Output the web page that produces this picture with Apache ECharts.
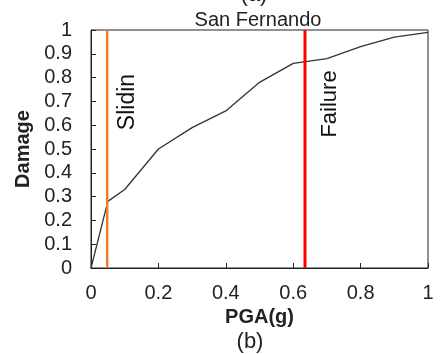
<!DOCTYPE html>
<html>
<head>
<meta charset="utf-8">
<script src="https://cdn.jsdelivr.net/npm/echarts@6/dist/echarts.min.js"></script>
<style>html,body{margin:0;padding:0;background:#fff}#c{width:441px;height:354px}</style>
</head>
<body>
<div id="c"></div>
<script>
var pga = [0, 0.05, 0.1, 0.2, 0.3, 0.4, 0.5, 0.6, 0.7, 0.8, 0.9, 1.0];
var damage = [0, 0.28, 0.33, 0.50, 0.59, 0.66, 0.78, 0.86, 0.88, 0.93, 0.97, 0.99];
var slidingPGA = 0.048;
var failurePGA = 0.635;
var yTicks = [0, 0.1, 0.2, 0.3, 0.4, 0.5, 0.6, 0.7, 0.8, 0.9, 1];
var xTicks = [0, 0.2, 0.4, 0.6, 0.8, 1];

var chart = echarts.init(document.getElementById('c'), null, {renderer: 'canvas'});
var font = 'Liberation Sans, Arial, sans-serif';
var lineData = pga.map(function (x, i) { return [x, damage[i]]; });

chart.setOption({
  animation: false,
  backgroundColor: '#fff',
  textStyle: {fontFamily: font},
  grid: {left: 91, right: 13, top: 30, bottom: 86, show: true, borderColor: '#222', borderWidth: 1, backgroundColor: 'transparent'},
  xAxis: {
    type: 'value', min: 0, max: 1, interval: 0.2,
    name: 'PGA(g)', nameLocation: 'middle', nameGap: 32,
    nameTextStyle: {fontSize: 20, fontWeight: 'bold', color: '#222', fontFamily: font},
    axisLine: {show: true, lineStyle: {color: '#222', width: 1}},
    axisTick: {show: true, inside: true, length: 5, lineStyle: {color: '#222'}},
    axisLabel: {fontSize: 20, color: '#222', margin: 15, fontFamily: font,
      formatter: function (v) { return String(+v.toFixed(1)); }},
    splitLine: {show: false}
  },
  yAxis: {
    type: 'value', min: 0, max: 1, interval: 0.1,
    name: 'Damage', nameLocation: 'middle', nameGap: 57, nameRotate: 90,
    nameTextStyle: {fontSize: 20, fontWeight: 'bold', color: '#222', fontFamily: font},
    axisLine: {show: true, lineStyle: {color: '#222', width: 1}},
    axisTick: {show: true, inside: true, length: 5, lineStyle: {color: '#222'}},
    axisLabel: {fontSize: 20, color: '#222', margin: 19, fontFamily: font,
      formatter: function (v) { return String(+v.toFixed(1)); }},
    splitLine: {show: false}
  },
  title: {
    text: 'San Fernando', left: 253, textAlign: 'center', top: 5, itemGap: 0,
    textStyle: {fontSize: 20, fontWeight: 'normal', color: '#222', fontFamily: font}
  },
  graphic: [
    {type: 'text', x: 254, y: -5, style: {text: '(a)', fontSize: 22, fill: '#222', fontFamily: font, align: 'center', verticalAlign: 'middle'}},
    {type: 'text', x: 250, y: 342, style: {text: '(b)', fontSize: 22, fill: '#222', fontFamily: font, align: 'center', verticalAlign: 'middle'}},
    {type: 'text', x: 128, y: 102, rotation: Math.PI / 2,
      style: {text: 'Slidin', fontSize: 23, fill: '#111', fontFamily: font, align: 'center', verticalAlign: 'middle'}},
    {type: 'text', x: 330, y: 104, rotation: Math.PI / 2,
      style: {text: 'Failure', fontSize: 22, fill: '#111', fontFamily: font, align: 'center', verticalAlign: 'middle'}}
  ],
  series: [
    {type: 'line', data: lineData, symbol: 'none', lineStyle: {color: '#333', width: 1.3}, z: 3},
    {type: 'line', data: [[slidingPGA, 0], [slidingPGA, 1]], symbol: 'none', lineStyle: {color: '#ED7D31', width: 2.5}, z: 4},
    {type: 'line', data: [[failurePGA, 0], [failurePGA, 1]], symbol: 'none', lineStyle: {color: '#FF0000', width: 3}, z: 4}
  ]
});
</script>
</body>
</html>
